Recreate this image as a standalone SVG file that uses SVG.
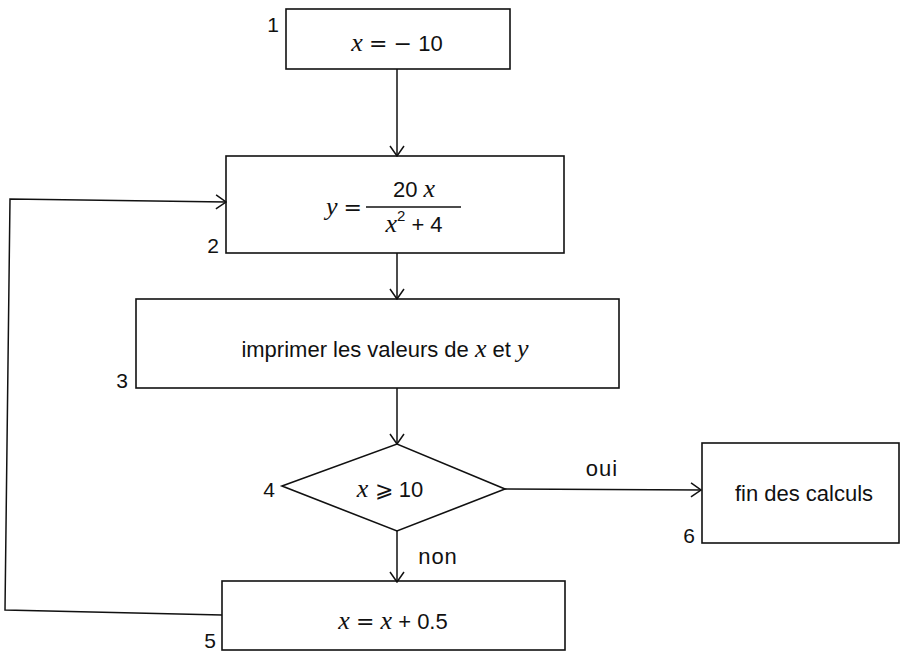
<svg xmlns="http://www.w3.org/2000/svg" width="900" height="655" viewBox="0 0 900 655">
<style>
.box{fill:none;stroke:#111;stroke-width:1.6}
.conn{fill:none;stroke:#111;stroke-width:1.5}
.t{font-family:"Liberation Sans",Arial,sans-serif;font-size:22px;fill:#111}
.lbl{font-family:"Liberation Sans",Arial,sans-serif;font-size:21px;fill:#111}
.m{font-family:"Liberation Serif","Times New Roman",serif;font-style:italic;font-size:26px}
.s{font-family:"DejaVu Serif","Liberation Serif",serif;font-style:normal}
</style>
<defs>
<marker id="ah" markerWidth="12" markerHeight="16" refX="11" refY="8" orient="auto" markerUnits="userSpaceOnUse">
<path d="M1,1 L11,8 L1,15" fill="none" stroke="#111" stroke-width="1.5"/>
</marker>
</defs>
<g id="connectors">
<line class="conn" x1="397" y1="69" x2="397" y2="156" marker-end="url(#ah)"/>
<line class="conn" x1="397" y1="253" x2="397" y2="299" marker-end="url(#ah)"/>
<line class="conn" x1="397" y1="388" x2="397" y2="444" marker-end="url(#ah)"/>
<line class="conn" x1="505" y1="489" x2="701" y2="490" marker-end="url(#ah)"/>
<line class="conn" x1="397" y1="531" x2="397" y2="582" marker-end="url(#ah)"/>
<polyline class="conn" points="222,615 5,610 10,199 226,202" marker-end="url(#ah)"/>
<text class="t" x="602" y="476" text-anchor="middle" letter-spacing="1">oui</text>
<text class="t" x="438" y="564" text-anchor="middle" letter-spacing="1">non</text>
</g>
<g id="n1">
<rect class="box" x="286" y="9" width="224" height="60"/>
<text class="lbl" x="279" y="32" text-anchor="end">1</text>
<text class="t" x="397" y="51" text-anchor="middle"><tspan class="m">x</tspan> <tspan class="s">=</tspan> <tspan class="s">−</tspan> 10</text>
</g>
<g id="n2">
<rect class="box" x="226" y="156" width="338" height="97"/>
<text class="lbl" x="219" y="253" text-anchor="end">2</text>
<text class="t" x="344" y="215" text-anchor="middle"><tspan class="m">y</tspan> <tspan class="s">=</tspan></text>
<text class="t" x="414" y="197" text-anchor="middle">20 <tspan class="m">x</tspan></text>
<line class="conn" x1="366" y1="207" x2="461" y2="207"/>
<text class="t" x="414" y="232" text-anchor="middle"><tspan class="m">x</tspan><tspan font-size="15" dy="-11">2</tspan><tspan dy="11"> + 4</tspan></text>
</g>
<g id="n3">
<rect class="box" x="136" y="299" width="483" height="89"/>
<text class="lbl" x="128" y="388" text-anchor="end">3</text>
<text class="t" x="385" y="357" text-anchor="middle">imprimer les valeurs de <tspan class="m">x</tspan> et <tspan class="m">y</tspan></text>
</g>
<g id="n4">
<polygon class="box" points="282,486 397,444 505,489 397,531"/>
<text class="lbl" x="275" y="497" text-anchor="end">4</text>
<text class="t" x="390" y="497" text-anchor="middle"><tspan class="m">x</tspan> <tspan class="s">⩾</tspan> 10</text>
</g>
<g id="n6">
<rect class="box" x="702" y="443" width="197" height="100"/>
<text class="lbl" x="695" y="543" text-anchor="end">6</text>
<text class="t" x="804" y="501" text-anchor="middle">fin des calculs</text>
</g>
<g id="n5">
<rect class="box" x="222" y="581" width="343" height="69"/>
<text class="lbl" x="216" y="648" text-anchor="end">5</text>
<text class="t" x="393" y="629" text-anchor="middle"><tspan class="m">x</tspan> <tspan class="s">=</tspan> <tspan class="m">x</tspan> + 0.5</text>
</g>
</svg>
